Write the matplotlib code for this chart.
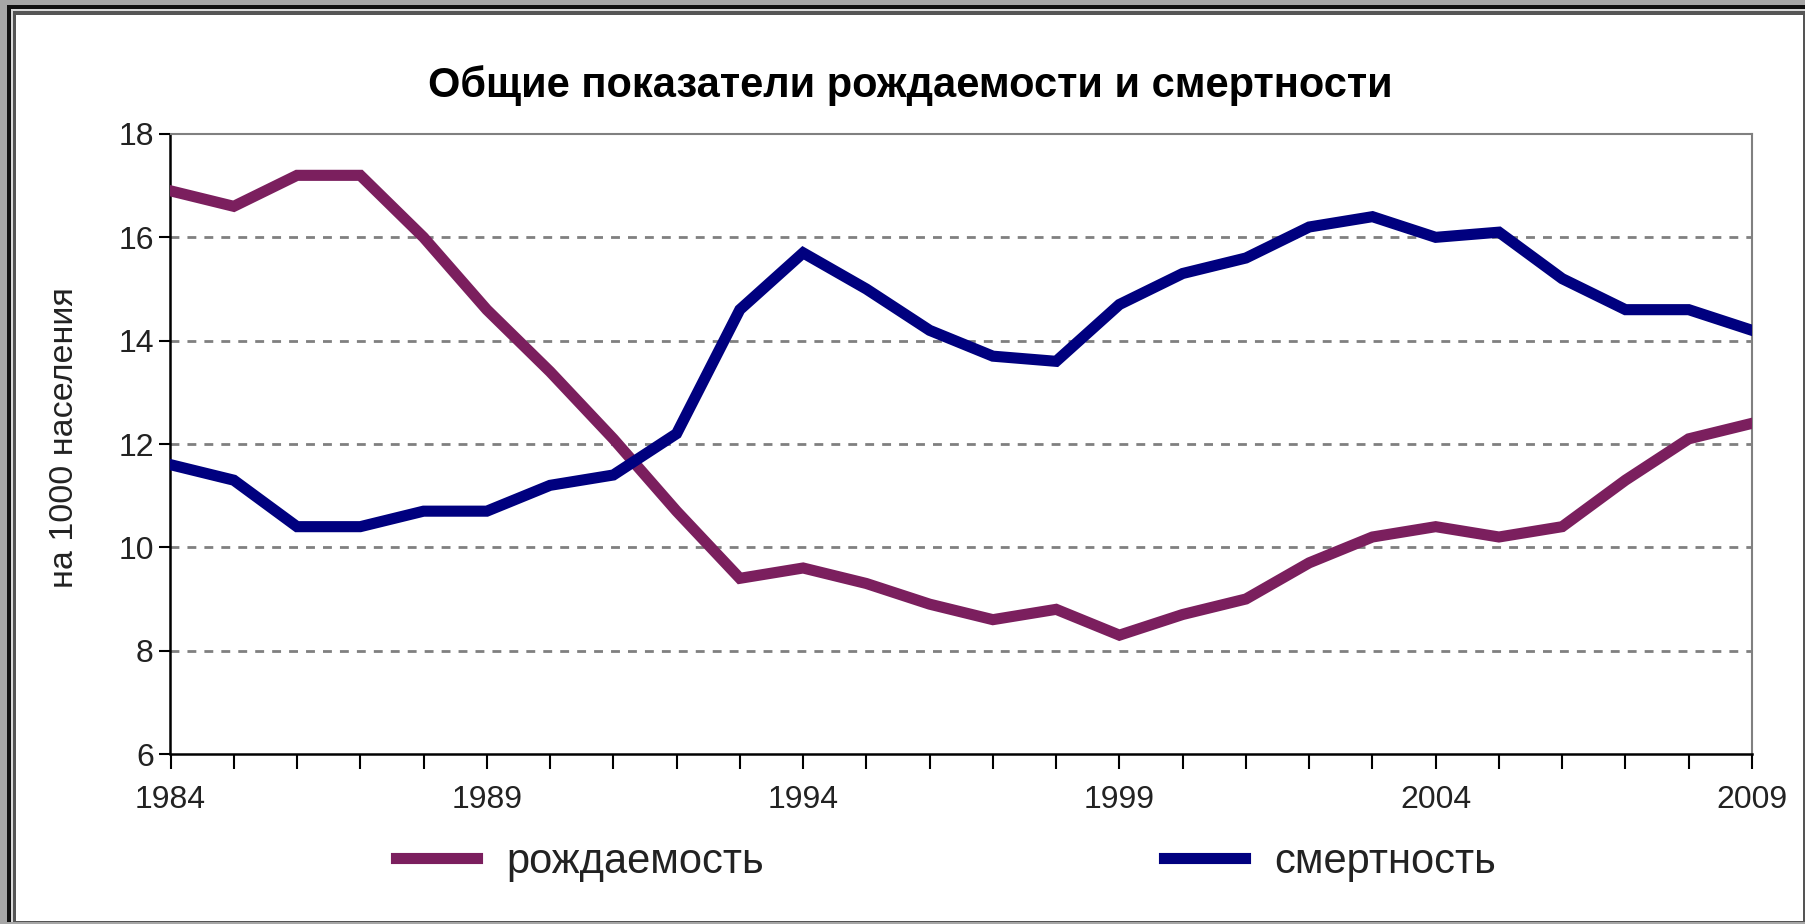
import matplotlib
matplotlib.use("Agg")
import matplotlib.pyplot as plt
from matplotlib.patches import Rectangle
from matplotlib.lines import Line2D

years = list(range(1984, 2010))
birth = [16.9, 16.6, 17.2, 17.2, 16.0, 14.6, 13.4, 12.1, 10.7, 9.4,
         9.6, 9.3, 8.9, 8.6, 8.8, 8.3, 8.7, 9.0, 9.7, 10.2,
         10.4, 10.2, 10.4, 11.3, 12.1, 12.4]
death = [11.6, 11.3, 10.4, 10.4, 10.7, 10.7, 11.2, 11.4, 12.2, 14.6,
         15.7, 15.0, 14.2, 13.7, 13.6, 14.7, 15.3, 15.6, 16.2, 16.4,
         16.0, 16.1, 15.2, 14.6, 14.6, 14.2]
series_labels = ["рождаемость", "смертность"]
xtick_labels = [1984, 1989, 1994, 1999, 2004, 2009]

BIRTH_COLOR = "#7B1F5E"
DEATH_COLOR = "#00007F"
W, H = 1806, 924

plt.rcParams["font.family"] = ["Liberation Sans", "DejaVu Sans"]

fig = plt.figure(figsize=(W / 100, H / 100), dpi=100, facecolor="white")


def px_rect(x0, y0, x1, y1, **kw):
    # pixel box (top-left origin) -> figure fraction rectangle
    fig.patches.append(Rectangle((x0 / W, 1 - y1 / H), (x1 - x0) / W, (y1 - y0) / H,
                                 transform=fig.transFigure, figure=fig, **kw))


# beveled frame around the chart
px_rect(0, 0, W, H, facecolor="#A6A6A6", edgecolor="none", zorder=-10)
px_rect(7, 5, W, 922, facecolor="#111111", edgecolor="none", zorder=-9)
px_rect(11, 9, W, 922, facecolor="#D8D8D8", edgecolor="none", zorder=-8)
px_rect(13, 11, W, 922, facecolor="#555555", edgecolor="none", zorder=-7)
px_rect(16, 15, W - 3, 921, facecolor="white", edgecolor="none", zorder=-6)

ax = fig.add_axes([170.5 / W, 1 - 754 / H, (1752 - 170.5) / W, (754 - 134) / H])
ax.set_facecolor("white")

ax.plot(years, birth, color=BIRTH_COLOR, lw=8, solid_joinstyle="miter", zorder=3)
ax.plot(years, death, color=DEATH_COLOR, lw=8, solid_joinstyle="miter", zorder=3)

ax.set_xlim(1984, 2009)
ax.set_ylim(6, 18)
ax.set_yticks(range(6, 19, 2))
ax.set_xticks(years)
ax.set_xticklabels([str(y) if y in xtick_labels else "" for y in years])
ax.tick_params(axis="x", direction="out", length=11, width=1.5, labelsize=23, pad=11,
               colors="black")
ax.tick_params(axis="y", direction="out", length=8, width=1.5, labelsize=23, pad=4)
for lbl in ax.get_xticklabels() + ax.get_yticklabels():
    lbl.set_color("#222222")

for y in range(8, 18, 2):
    ax.axhline(y, color="#808080", lw=2, ls=(0, (3.2, 2.9)), zorder=1)

ax.spines["left"].set_color("black")
ax.spines["left"].set_linewidth(1.8)
ax.spines["bottom"].set_color("black")
ax.spines["bottom"].set_linewidth(1.8)
ax.spines["top"].set_color("#808080")
ax.spines["top"].set_linewidth(1.5)
ax.spines["right"].set_color("#808080")
ax.spines["right"].set_linewidth(1.5)

ax.set_ylabel("на 1000 населения", fontsize=24.5, color="#222222")
ax.yaxis.set_label_coords(-0.057, 0.51)

fig.text(910 / W, 1 - 86 / H, "Общие показатели рождаемости и смертности",
         ha="center", va="center", fontsize=30, fontweight="bold", color="black")

handles = [Line2D([0], [0], color=BIRTH_COLOR, lw=8),
           Line2D([0], [0], color=DEATH_COLOR, lw=8)]
fig.legend(handles, series_labels, loc="center", bbox_to_anchor=(946 / W, 1 - 862 / H),
           ncol=2, frameon=False, fontsize=30, handlelength=1.95, handletextpad=0.7,
           columnspacing=9.6, labelcolor="#222222")

fig.savefig("out.png", dpi=100, facecolor=fig.get_facecolor())
